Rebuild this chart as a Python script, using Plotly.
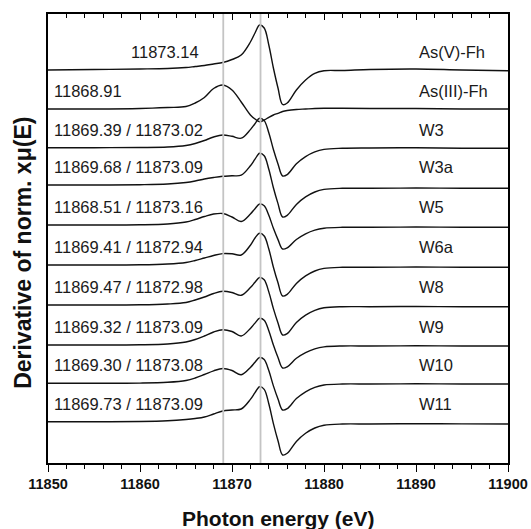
import plotly.graph_objects as go

# Photon energy grid (eV)
energy = [11850, 11855, 11860, 11863, 11865, 11866, 11867, 11868, 11869, 11870,
          11871, 11872, 11872.5, 11873, 11873.5, 11874, 11874.5, 11875, 11875.5, 11876,
          11877, 11878, 11879, 11880, 11882, 11885, 11890, 11895, 11900]

# Derivative of normalized xmu(E), arbitrary units
as_v_fh = [0, 0.05, 0.1, 0.15, 0.25, 0.35, 0.45, 0.6, 0.75, 1.05, 1.5, 2.8, 3.7, 4.5, 4.2,
           2.5, 0.2, -1.8, -3.45, -3.3, -2.0, -1.0, -0.33, -0.07, -0.05, 0.05, 0.1, 0.0, -0.07]
as_iii_fh = [0, 0, 0.05, 0.15, 0.25, 0.6, 1.15, 2.05, 2.4, 1.9, 0.7, -0.6, -1.0, -1.27, -1.1,
             -0.83, -0.6, -0.43, -0.25, -0.15, -0.05, 0, 0.05, 0.07, 0.07, 0.05, 0.05, 0, 0]
w3 = [0, 0, 0.02, 0.07, 0.22, 0.42, 0.72, 1.07, 1.27, 1.14, 0.95, 1.81, 2.4, 2.94, 2.71,
      1.5, -0.18, -1.62, -2.83, -2.69, -1.61, -0.89, -0.42, -0.17, -0.06, -0.03, -0.01, -0.05, -0.06]
w3a = [0, 0, 0.03, 0.1, 0.25, 0.4, 0.6, 0.75, 0.87, 0.92, 0.98, 1.92, 2.58, 3.17, 2.92,
       1.58, -0.27, -1.86, -3.2, -3.04, -1.94, -1.19, -0.7, -0.44, -0.33, -0.33, -0.3, -0.32, -0.33]
w5 = [0, 0, 0.02, 0.1, 0.3, 0.55, 0.85, 1.1, 1.15, 0.8, 0.35, 1.1, 1.63, 2.1, 1.92,
      0.97, -0.33, -1.46, -2.4, -2.29, -1.45, -0.88, -0.51, -0.32, -0.23, -0.23, -0.2, -0.22, -0.23]
w6a = [0, 0, 0.02, 0.1, 0.25, 0.45, 0.7, 0.95, 1.14, 1.12, 1.0, 1.98, 2.7, 3.17, 2.9,
       1.6, -0.22, -1.78, -3.1, -2.94, -1.84, -1.09, -0.6, -0.34, -0.23, -0.23, -0.2, -0.22, -0.23]
w8 = [0, 0, 0.02, 0.1, 0.25, 0.5, 0.8, 1.15, 1.37, 1.25, 0.97, 1.74, 2.27, 2.75, 2.52,
      1.31, -0.36, -1.79, -3.0, -2.86, -1.75, -1.02, -0.54, -0.28, -0.17, -0.17, -0.15, -0.17, -0.17]
w9 = [0, 0, 0.02, 0.1, 0.3, 0.55, 0.9, 1.3, 1.53, 1.35, 0.9, 1.66, 2.19, 2.67, 2.47,
      1.43, -0.01, -1.26, -2.3, -2.18, -1.33, -0.76, -0.39, -0.19, -0.1, -0.1, -0.08, -0.1, -0.1]
w10 = [0, 0, 0.02, 0.1, 0.28, 0.53, 0.88, 1.25, 1.48, 1.28, 0.85, 1.59, 2.11, 2.58, 2.37,
       1.27, -0.26, -1.57, -2.67, -2.54, -1.53, -0.85, -0.41, -0.17, -0.07, -0.07, -0.05, -0.07, -0.07]
w11 = [0, 0, 0.02, 0.09, 0.22, 0.32, 0.47, 0.77, 1.07, 1.17, 1.27, 2.23, 2.9, 3.5, 3.23,
       1.79, -0.19, -1.9, -3.33, -3.16, -1.97, -1.16, -0.63, -0.35, -0.23, -0.23, -0.2, -0.22, -0.23]

sample_names = ["As(V)-Fh", "As(III)-Fh", "W3", "W3a", "W5", "W6a", "W8", "W9", "W10", "W11"]
peak_labels = ["11873.14", "11868.91", "11869.39 / 11873.02", "11869.68 / 11873.09",
               "11868.51 / 11873.16", "11869.41 / 11872.94", "11869.47 / 11872.98",
               "11869.32 / 11873.09", "11869.30 / 11873.08", "11869.73 / 11873.09"]
series = [as_v_fh, as_iii_fh, w3, w3a, w5, w6a, w8, w9, w10, w11]
stack_offset = [39.3, 35.4, 31.53, 27.8, 23.8, 19.8, 15.8, 11.8, 7.97, 4.13]

reference_energies = [11869.05, 11873.1]

x_range = [11850, 11900]
y_range = [0, 44.9]

FONT = "Arial, 'Liberation Sans', Helvetica, sans-serif"

fig = go.Figure()

for e in reference_energies:
    fig.add_trace(go.Scatter(x=[e, e], y=y_range, mode="lines", xaxis="x2",
                             line=dict(color="#c4c4c4", width=1.8),
                             hoverinfo="skip", showlegend=False))

for name, vals, off in zip(sample_names, series, stack_offset):
    fig.add_trace(go.Scatter(x=energy, y=[v + off for v in vals], mode="lines", name=name,
                             line=dict(color="#111111", width=1.4, shape="spline", smoothing=1.0),
                             showlegend=False))

annotations = []
for i, (name, lab, off) in enumerate(zip(sample_names, peak_labels, stack_offset)):
    if i == 0:
        annotations.append(dict(x=11866.6, y=off + 1.8, xref="x", yref="y", text=lab,
                                showarrow=False, xanchor="right", yanchor="middle",
                                font=dict(family=FONT, size=16.5, color="#1a1a1a")))
    else:
        annotations.append(dict(x=11850.45, y=off + 1.8, xref="x", yref="y", text=lab,
                                showarrow=False, xanchor="left", yanchor="middle",
                                font=dict(family=FONT, size=16.5, color="#1a1a1a")))
    annotations.append(dict(x=11890.1, y=off + 1.8, xref="x", yref="y", text=name,
                            showarrow=False, xanchor="left", yanchor="middle",
                            font=dict(family=FONT, size=16.5, color="#1a1a1a")))

annotations.append(dict(x=0.5, y=0, xref="paper", yref="paper", yshift=-55,
                        text="Photon energy (eV)", showarrow=False,
                        xanchor="center", yanchor="middle",
                        font=dict(family=FONT, size=21, color="#111111", weight="bold")))
annotations.append(dict(x=0, y=0.468, xref="paper", yref="paper", xshift=-25,
                        text="Derivative of norm. xμ(E)", showarrow=False, textangle=-90,
                        xanchor="center", yanchor="middle",
                        font=dict(family=FONT, size=23, color="#111111", weight="bold")))

fig.update_layout(
    width=531, height=529, autosize=False,
    margin=dict(l=48, r=23, t=14, b=66),
    paper_bgcolor="white", plot_bgcolor="white",
    showlegend=False,
    annotations=annotations,
    xaxis=dict(range=x_range, tick0=11850, dtick=10, tickformat="d", automargin=False,
               ticks="outside", ticklen=7, tickwidth=1.3,
               tickcolor="black", showline=True, linewidth=1.5, linecolor="black", mirror=True,
               showgrid=False, zeroline=False,
               tickfont=dict(family=FONT, size=14.5, color="#111111", weight="bold"),
               minor=dict(dtick=2, tick0=11850, ticks="outside", ticklen=4, tickwidth=1.3,
                          tickcolor="black", showgrid=False)),
    xaxis2=dict(range=x_range, overlaying="x", side="top", tick0=11850, dtick=10,
                automargin=False,
                ticks="inside", ticklen=6, tickwidth=1.3, tickcolor="black",
                showticklabels=False, showline=False, showgrid=False, zeroline=False,
                minor=dict(dtick=2, tick0=11850, ticks="inside", ticklen=4, tickwidth=1.3,
                           tickcolor="black", showgrid=False)),
    yaxis=dict(range=y_range, showline=True, linewidth=1.5, linecolor="black", mirror=True,
               automargin=False,
               ticks="", showticklabels=False, showgrid=False, zeroline=False),
)

fig.write_html(
    "out.html",
    config={"displayModeBar": False, "responsive": False},
    post_script=("document.documentElement.style.overflow='hidden';"
                 "document.body.style.margin='0px';document.body.style.overflow='hidden';"
                 "Plotly.relayout('{plot_id}', {width: 531, height: 529});"),
)
